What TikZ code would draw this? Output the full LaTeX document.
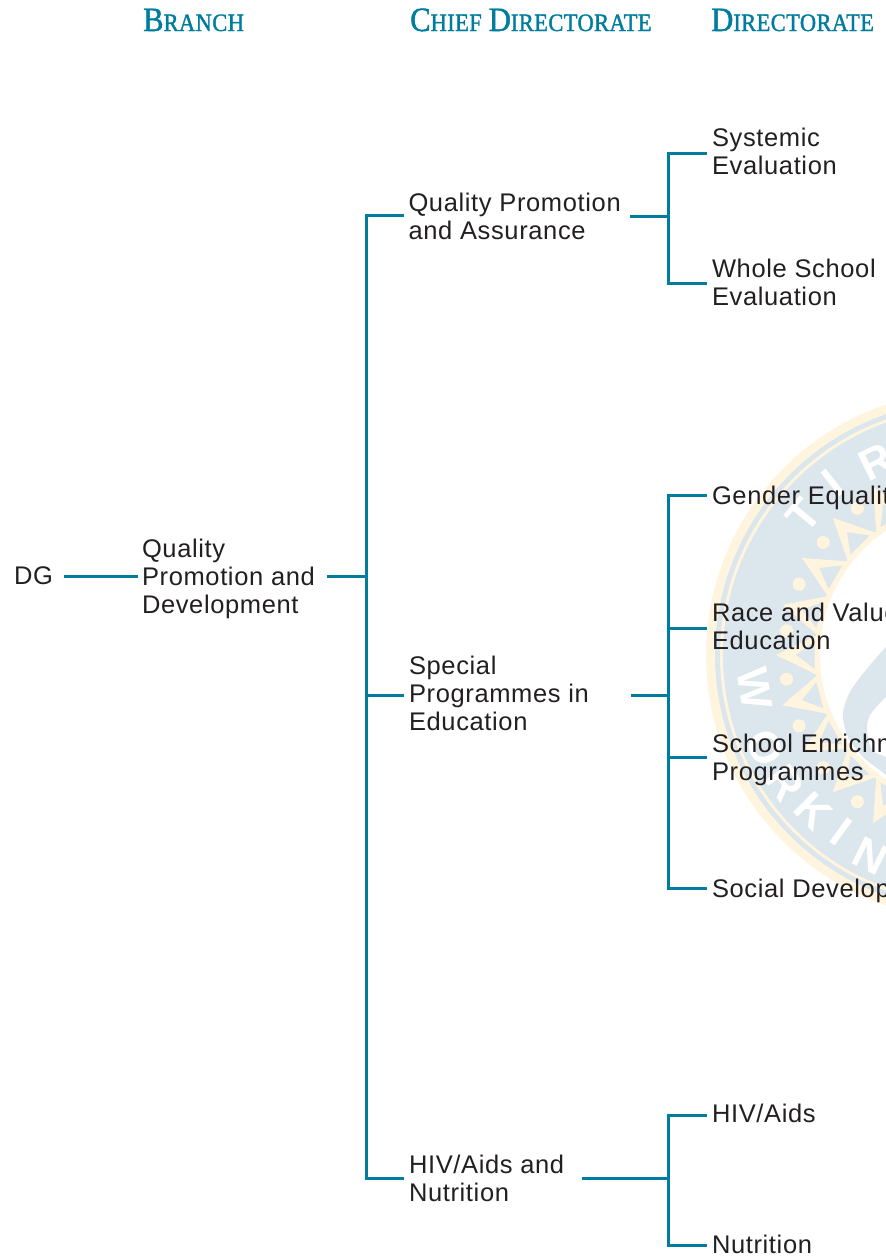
\documentclass[tikz,border=0pt]{standalone}
\usepackage{fontspec}
\newfontfamily\bodyfont{Liberation Sans}[LetterSpace=2.5]
\newfontfamily\sealfont{Liberation Sans}
\newfontfamily\headfont{Liberation Serif}[FakeStretch=0.9,FakeBold=1.4,LetterSpace=1.6]
\definecolor{teal}{HTML}{007C9E}
\definecolor{ink}{HTML}{231F20}
\definecolor{wblue}{HTML}{DCE6ED}
\definecolor{wcream}{HTML}{FFF5DF}
\newcommand{\headword}[2]{{\fontsize{34}{34}\selectfont #1}{\fontsize{25}{25}\selectfont #2}}
\tikzset{
  label/.style={anchor=west,align=left,inner sep=0pt,outer sep=0pt,text=ink,font=\bodyfont\fontsize{25.5}{28}\selectfont},
  head/.style={anchor=base west,inner sep=0pt,text=teal,font=\headfont},
  link/.style={draw=teal,line width=3pt,line cap=butt,line join=miter},
  sealletter/.style={text=white,font=\sealfont\bfseries\fontsize{44}{44}\selectfont,inner sep=0pt},
}
\newcommand{\pol}[2]{({970-(#1)*cos(#2)},{655-(#1)*sin(#2)})}
\begin{document}
\begin{tikzpicture}[x=1pt,y=-1pt]
\useasboundingbox (0,0) rectangle (886,1259);
\clip (0,0) rectangle (886,1259);
% seal watermark
\fill[wcream] (970,655) circle (264);
\fill[wblue] (970,655) circle (255);
\fill[wcream] (970,655) circle (250);
\fill[wblue] (970,655) circle (247);
\foreach \a in {0,15,...,345}{
  \fill[wcream] \pol{194}{\a} -- \pol{148}{\a+9} -- \pol{148}{\a-9} -- cycle;
  \fill[wblue] \pol{174}{\a} -- \pol{156}{\a+5} -- \pol{156}{\a-5} -- cycle;
  \fill[wcream] \pol{185}{\a+7.5} circle (6.5);
}
\fill[wcream] (970,655) circle (155);
\fill[white] (970,655) circle (150);
\fill[wblue,even odd rule] plot[smooth cycle] coordinates {(900,640) (886,647) (853,687) (843,713) (848,737) (863,757) (886,775) (900,790) (950,790) (950,640)}
  plot[smooth cycle] coordinates {(900,690) (886,697) (870,715) (867,730) (872,750) (886,757) (900,765) (930,765) (930,690)};
\foreach \l/\a/\r in {T/40/217,I/51.5/220,R/64/215}{
  \pgfmathsetmacro{\rot}{90-\a}
  \node[sealletter,rotate=\rot] (s\l) at \pol{\r}{\a} {\l};
}
\foreach \l/\a/\r/\n in {W/-9/218/a,O/-24.4/225/b,R/-34.6/225/c,K/-45/221/d,I/-54/219/e,N/-63.6/224/f}{
  \pgfmathsetmacro{\rot}{-90-\a}
  \node[sealletter,rotate=\rot] (l\n) at \pol{\r}{\a} {\l};
}
% headers
\node[head] (h1) at (143,31) {\headword{B}{RANCH}};
\node[head] (h2) at (410,31) {\headword{C}{HIEF}\hspace{7pt}\headword{D}{IRECTORATE}};
\node[head] (h3) at (711,31) {\headword{D}{IRECTORATE}};
% text
\node[label] (dg) at (14,576) {DG};
\node[label] (qpd) at (142,579) {Quality\\Promotion and\\Development};
\node[label] (qpa) at (408.5,216) {Quality Promotion\\and Assurance};
\node[label] (spe) at (409,693) {Special\\Programmes in\\Education};
\node[label] (han) at (409,1178.5) {HIV/Aids and\\Nutrition};
\node[label] (se) at (712,151) {Systemic\\Evaluation};
\node[label] (ws) at (712,282.5) {Whole School\\Evaluation};
\node[label] (ge) at (712,498) {Gender Equality};
\node[label] (rv) at (712,626) {Race and Values\\Education};
\node[label] (sr) at (712,760) {School Enrichment\\Programmes};
\node[label] (sd) at (712,891) {Social Development};
\node[label] (ha) at (712,1113.5) {HIV/Aids};
\node[label] (nu) at (712,1244.5) {Nutrition};
% junctions
\coordinate (j0) at (366,576);
\coordinate (t0) at (366,215);
\coordinate (t1) at (366,695);
\coordinate (t2) at (366,1178);
\coordinate (j1) at (668,216);
\coordinate (j2) at (668,695);
\coordinate (j3) at (668,1178);
\coordinate (a1) at (668,153);
\coordinate (a2) at (668,283);
\coordinate (b1) at (668,495);
\coordinate (b2) at (668,628);
\coordinate (b3) at (668,757);
\coordinate (b4) at (668,888);
\coordinate (c1) at (668,1115);
\coordinate (c2) at (668,1245);
% connectors
\draw[link] ([xshift=11pt]dg.east) -- ([xshift=-4pt]qpd.west |- dg.east);
\draw[link] ([xshift=12pt]qpd.east |- j0) -- (j0);
\draw[link] ([xshift=-4.5pt]qpa.west |- t0) -- (t0) -- (t2) -- ([xshift=-5pt]han.west |- t2);
\draw[link] ([xshift=-5pt]spe.west |- t1) -- (t1);
\draw[link] ([xshift=9.5pt]qpa.east |- j1) -- (j1);
\draw[link] ([xshift=-5pt]se.west |- a1) -- (a1) -- (a2) -- ([xshift=-5pt]ws.west |- a2);
\draw[link] ([xshift=42pt]spe.east |- j2) -- (j2);
\draw[link] ([xshift=-5pt]ge.west |- b1) -- (b1) -- (b4) -- ([xshift=-5pt]sd.west |- b4);
\draw[link] ([xshift=-5pt]rv.west |- b2) -- (b2);
\draw[link] ([xshift=-5pt]sr.west |- b3) -- (b3);
\draw[link] ([xshift=18pt]han.east |- j3) -- (j3);
\draw[link] ([xshift=-5pt]ha.west |- c1) -- (c1) -- (c2) -- ([xshift=-5pt]nu.west |- c2);
\end{tikzpicture}
\end{document}
